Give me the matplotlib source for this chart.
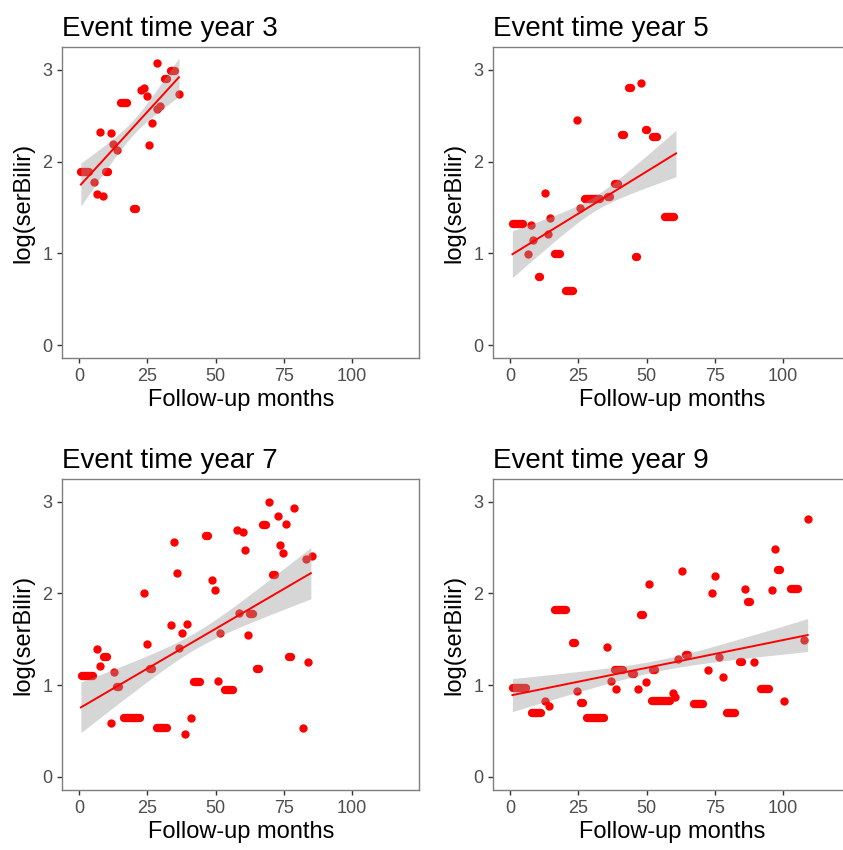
import numpy as np
import matplotlib
matplotlib.use("Agg")
import matplotlib.pyplot as plt

plt.rcParams['font.family'] = ['Liberation Sans', 'DejaVu Sans']

titles = ["Event time year 3", "Event time year 5", "Event time year 7", "Event time year 9"]

# single measurements (months, log bilirubin)
y3_x = [28.7, 36.8, 22.7, 23.8, 24.8, 29.7, 28.4, 26.7, 25.6, 7.7, 11.7, 12.6, 13.8, 5.6, 6.7, 8.7]
y3_y = [3.08, 2.74, 2.78, 2.80, 2.72, 2.61, 2.57, 2.42, 2.18, 2.32, 2.31, 2.19, 2.13, 1.78, 1.65, 1.63]
# runs of repeated values: (start month, end month, value)
y3_runs = [(33.8, 35.0, 2.99), (31.5, 32.2, 2.90), (15.3, 17.6, 2.64), (0.8, 3.6, 1.89),
           (9.9, 10.5, 1.89), (20.2, 21.0, 1.48)]

y5_x = [47.9, 24.7, 25.7, 12.8, 14.7, 7.6, 13.8, 8.6, 6.7]
y5_y = [2.86, 2.45, 1.49, 1.66, 1.39, 1.31, 1.21, 1.15, 0.99]
y5_runs = [(43.5, 44.2, 2.80), (49.8, 50.2, 2.34), (52.4, 54.0, 2.27), (41.2, 41.6, 2.29),
           (38.5, 39.4, 1.76), (35.8, 36.5, 1.61), (27.6, 32.9, 1.59), (1.0, 4.8, 1.32),
           (16.5, 18.3, 0.99), (10.6, 11.1, 0.74), (20.5, 23.1, 0.59), (46.2, 46.6, 0.96),
           (56.7, 60.2, 1.40)]

y7_x = [69.7, 78.9, 72.8, 75.8, 57.8, 60.0, 34.8, 60.8, 73.6, 74.8, 85.2, 83.0, 35.8, 48.8,
        49.7, 23.8, 33.8, 39.7, 37.9, 58.7, 51.8, 61.8, 36.8, 24.8, 6.7, 7.7, 12.8, 83.8,
        50.8, 11.6, 40.9, 38.8, 81.9]
y7_y = [3.00, 2.93, 2.84, 2.76, 2.69, 2.67, 2.56, 2.47, 2.53, 2.44, 2.41, 2.37, 2.22, 2.14,
        2.04, 2.00, 1.65, 1.67, 1.57, 1.79, 1.57, 1.55, 1.40, 1.45, 1.39, 1.21, 1.14, 1.25,
        1.04, 0.59, 0.64, 0.47, 0.53]
y7_runs = [(67.4, 68.4, 2.74), (46.6, 47.4, 2.62), (71.0, 71.8, 2.20), (62.8, 63.7, 1.77),
           (9.3, 10.2, 1.31), (1.0, 5.1, 1.10), (14.0, 14.8, 0.98), (25.9, 26.7, 1.17),
           (65.0, 65.8, 1.18), (77.0, 77.8, 1.31), (42.2, 44.3, 1.03), (53.6, 56.5, 0.95),
           (16.4, 22.4, 0.64), (28.6, 32.3, 0.53)]

y9_x = [109.0, 96.9, 96.0, 85.9, 63.0, 74.9, 74.0, 51.0, 35.7, 107.6, 61.7, 76.4, 89.5, 72.4,
        78.0, 36.9, 49.9, 24.7, 38.9, 46.8, 59.7, 12.8, 14.4, 60.5, 100.2]
y9_y = [2.81, 2.48, 2.04, 2.05, 2.24, 2.19, 2.00, 2.10, 1.41, 1.49, 1.28, 1.31, 1.25, 1.16,
        1.09, 1.04, 1.03, 0.94, 0.96, 0.96, 0.91, 0.83, 0.77, 0.87, 0.83]
y9_runs = [(98.2, 98.7, 2.25), (103.0, 105.4, 2.05), (87.2, 87.7, 1.91), (16.6, 20.6, 1.82),
           (47.8, 48.6, 1.76), (22.9, 23.7, 1.46), (64.3, 65.0, 1.33), (84.3, 85.0, 1.25),
           (38.6, 41.5, 1.16), (44.5, 45.4, 1.12), (52.5, 53.2, 1.16), (1.0, 6.0, 0.97),
           (91.8, 94.7, 0.96), (26.0, 26.6, 0.80), (52.0, 58.6, 0.83), (67.3, 70.8, 0.79),
           (8.0, 11.5, 0.69), (28.2, 34.4, 0.64), (79.5, 82.4, 0.69)]

# linear fit: x0, x1, y(x0), y(x1), band half-width at x0, minimum, x1
fits = [(0.7, 36.6, 1.75, 2.92, 0.235, 0.08, 0.21),
        (0.9, 60.8, 0.99, 2.09, 0.255, 0.08, 0.255),
        (0.7, 84.9, 0.756, 2.22, 0.276, 0.09, 0.28),
        (0.9, 109.0, 0.89, 1.545, 0.18, 0.06, 0.18)]

pts_x = [y3_x, y5_x, y7_x, y9_x]
pts_y = [y3_y, y5_y, y7_y, y9_y]
runs = [y3_runs, y5_runs, y7_runs, y9_runs]

fig = plt.figure(figsize=(8.43, 8.5), dpi=100)
W, H = 843, 850
boxes = [(62.3, 47.3), (493.3, 47.3), (62.3, 479), (493.3, 479)]
aw, ah = 357, 311

for i in range(4):
    left, top = boxes[i]
    ax = fig.add_axes([left / W, 1 - (top + ah) / H, aw / W, ah / H])
    ax.scatter(pts_x[i], pts_y[i], s=36, color='#FF0000', linewidths=0, zorder=2)
    for x0, x1, yv in runs[i]:
        ax.plot([x0, x1], [yv, yv], color='#FF0000', lw=6, solid_capstyle='round', zorder=2)

    fx0, fx1, fy0, fy1, w0, wc, w1 = fits[i]
    d0 = np.sqrt(w0 ** 2 - wc ** 2)
    d1 = np.sqrt(w1 ** 2 - wc ** 2)
    xm = (fx0 * d1 + fx1 * d0) / (d0 + d1)
    k = (d0 / (xm - fx0)) ** 2
    xs = np.linspace(fx0, fx1, 80)
    ys = fy0 + (fy1 - fy0) * (xs - fx0) / (fx1 - fx0)
    hw = np.sqrt(wc ** 2 + k * (xs - xm) ** 2)
    ax.fill_between(xs, ys - hw, ys + hw, color='#999999', alpha=0.4, linewidth=0, zorder=3)
    ax.plot(xs, ys, color='#FF0000', lw=1.4, zorder=4)

    ax.set_xlim(-6.1, 124.6)
    ax.set_ylim(-0.145, 3.247)
    ax.set_xticks([0, 25, 50, 75, 100])
    ax.set_yticks([0, 1, 2, 3])
    for sp in ax.spines.values():
        sp.set_color('#7F7F7F')
        sp.set_linewidth(1.0)
    ax.tick_params(length=3.5, width=1.0, color='#333333', labelcolor='#4D4D4D',
                   labelsize=13, pad=3.5)
    ax.set_xlabel("Follow-up months", fontsize=17, color='black', labelpad=3)
    ax.set_ylabel("log(serBilir)", fontsize=17, color='black', labelpad=6)
    ax.set_title(titles[i], loc='left', fontsize=20, pad=8)

fig.savefig("out.png", dpi=100)
